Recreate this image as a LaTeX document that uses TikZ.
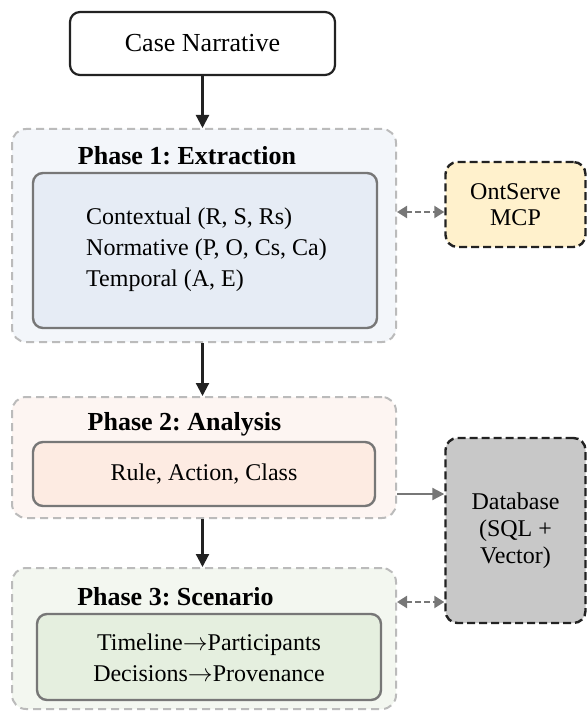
\documentclass[tikz,border=0pt]{standalone}
\usepackage{fontspec}
\setmainfont{Liberation Serif}
\usetikzlibrary{arrows.meta}
\definecolor{p1out}{HTML}{F3F6FA}
\definecolor{p1in}{HTML}{E6ECF5}
\definecolor{p2out}{HTML}{FDF5F2}
\definecolor{p2in}{HTML}{FDEBE2}
\definecolor{p3out}{HTML}{F3F7F0}
\definecolor{p3in}{HTML}{E5EFDF}
\definecolor{ontfill}{HTML}{FFF1CC}
\definecolor{dbfill}{HTML}{C8C8C8}
\definecolor{outline}{HTML}{BBBBBB}
\definecolor{inline}{HTML}{777777}
\definecolor{sidearrow}{HTML}{777777}
\definecolor{darkline}{HTML}{222222}
\newcommand{\myarrow}{\ensuremath{\rightarrow}}
\tikzset{
  px/.style={x=1pt,y=-1pt},
  casebox/.style={draw=darkline,line width=2.2pt,fill=white,rounded corners=10pt,inner sep=0pt,
    font=\fontsize{26}{30}\selectfont},
  outerbox/.style={draw=outline,dash pattern=on 8pt off 5pt,line width=2pt,rounded corners=14pt,inner sep=0pt},
  innerbox/.style={draw=inline,line width=2.4pt,rounded corners=10pt,inner sep=0pt},
  sidebox/.style={draw=darkline,line width=2.4pt,dash pattern=on 8pt off 4pt,rounded corners=12pt,inner sep=0pt,
    align=center,font=\fontsize{24}{26}\selectfont},
  ptitle/.style={font=\fontsize{26}{30}\selectfont\bfseries,inner sep=0pt},
  itext/.style={font=\fontsize{24}{31}\selectfont,inner sep=0pt},
  mainarrow/.style={draw=darkline,line width=2.2pt,-{Triangle[length=13pt,width=13pt]}},
  grayarrow/.style={draw=sidearrow,line width=2.2pt,-{Triangle[length=12pt,width=12pt]}},
  dasharrow/.style={draw=sidearrow,line width=2.2pt,dash pattern=on 6pt off 3pt,
    {Triangle[length=10pt,width=12pt]}-{Triangle[length=10pt,width=12pt]}},
}
\begin{document}
\frenchspacing
\begin{tikzpicture}[px]
\useasboundingbox (0,0) rectangle (588,711);
% Case narrative
\node[casebox,minimum width=265pt,minimum height=63pt] (case) at (202.5,43.5) {Case Narrative};
% Phase 1
\node[outerbox,fill=p1out,minimum width=384pt,minimum height=213pt] (p1) at (204,235.5) {};
\node[ptitle] (p1t) at (187,156) {Phase 1: Extraction};
\node[innerbox,fill=p1in,minimum width=344pt,minimum height=155pt] (p1i) at (205,250.5) {};
\node[itext,align=left,anchor=west] (p1x) at (86,250) {Contextual (R, S, Rs)\\Normative (P, O, Cs, Ca)\\Temporal (A, E)};
% Phase 2
\node[outerbox,fill=p2out,minimum width=384pt,minimum height=121pt] (p2) at (204,457.5) {};
\node[ptitle] (p2t) at (184.5,424) {Phase 2: Analysis};
\node[innerbox,fill=p2in,minimum width=342pt,minimum height=64pt] (p2i) at (204,474) {};
\node[itext] (p2x) at (204,474) {Rule, Action, Class};
% Phase 3
\node[outerbox,fill=p3out,minimum width=384pt,minimum height=141pt] (p3) at (204,638.5) {};
\node[ptitle] (p3t) at (175.5,597) {Phase 3: Scenario};
\node[innerbox,fill=p3in,minimum width=344pt,minimum height=86pt] (p3i) at (209,657) {};
\node[itext,align=center] (p3x) at (209,658) {Timeline\myarrow Participants\\Decisions\myarrow Provenance};
% Side boxes
\node[sidebox,fill=ontfill,minimum width=140pt,minimum height=85pt] (ont) at (515.5,204.5) {OntServe\\MCP};
\node[sidebox,fill=dbfill,minimum width=140pt,minimum height=185pt,font=\fontsize{24}{27}\selectfont] (db) at (515.5,530.5) {Database\\(SQL +\\Vector)};
% Connectors
\draw[mainarrow] (case.south) -- (case.south |- p1.north);
\draw[mainarrow] (p1.south -| case.south) -- (p2.north -| case.south);
\draw[mainarrow] (p2.south -| case.south) -- (p3.north -| case.south);
\coordinate (yont) at (0,212);
\coordinate (ydb1) at (0,494);
\coordinate (ydb2) at (0,602);
\draw[dasharrow] (p1.east |- yont) -- (ont.west |- yont);
\draw[grayarrow] (p2.east |- ydb1) -- (db.west |- ydb1);
\draw[dasharrow] (p3.east |- ydb2) -- (db.west |- ydb2);
\end{tikzpicture}
\end{document}
